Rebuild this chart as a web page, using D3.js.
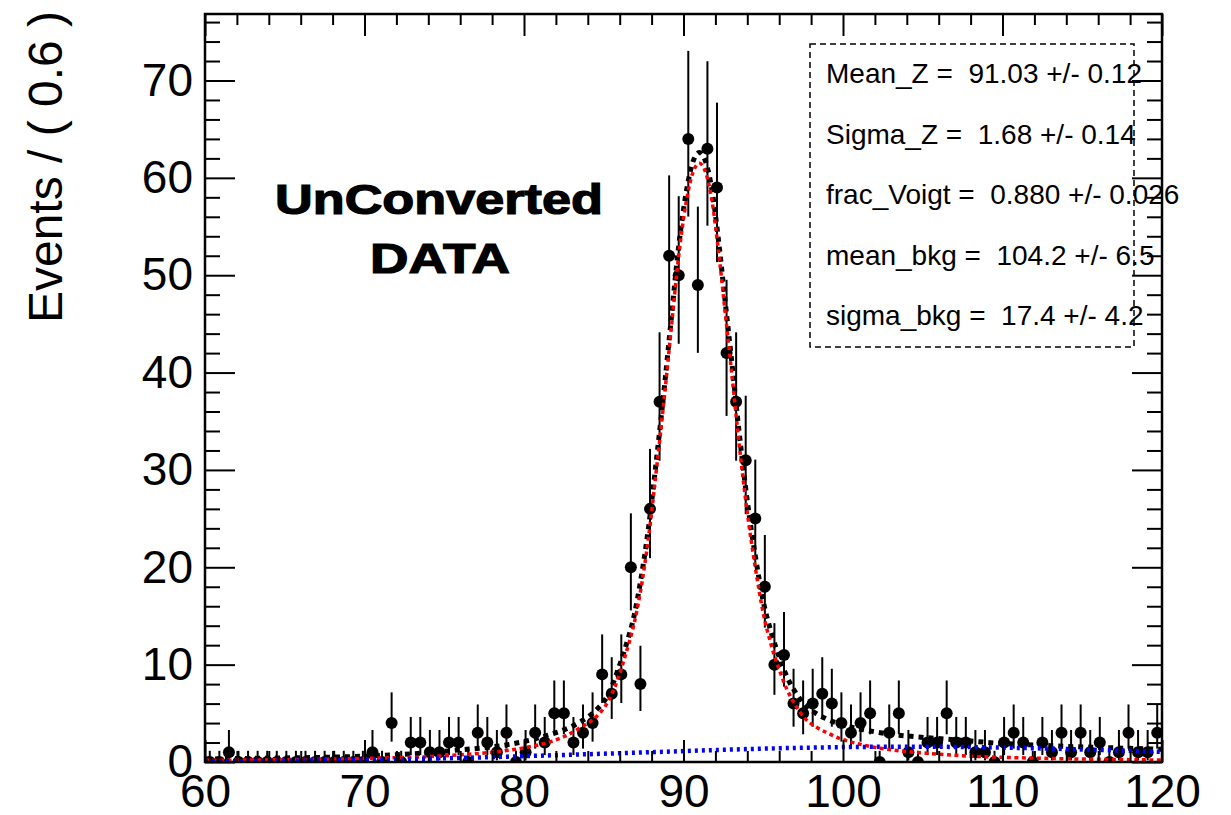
<!DOCTYPE html>
<html><head><meta charset="utf-8">
<script src="https://cdn.jsdelivr.net/npm/d3@7"></script>
<style>
body{margin:0;background:#fff;}
svg text{font-family:"Liberation Sans",Arial,Helvetica,sans-serif;fill:#000;}
</style></head><body>
<svg id="chart" width="1231" height="815"></svg>
<script>
// ---- Histogram binning (60 to 120, 100 bins of 0.6) ----
const binLow = 60, binWidth = 0.6;
const counts = [
  0,0,1,0,0,0,0,0,0,0,
  0,0,0,0,0,0,0,1,0,4,
  0,2,2,1,1,2,2,0,3,2,
  1,3,0,1,3,2,5,5,2,3,
  4,9,7,9,20,8,26,37,52,50,
  64,49,63,59,42,37,31,25,18,10,
  11,6,5,6,7,6,4,3,4,5,
  0,3,5,1,0,2,2,5,2,2,
  1,1,0,2,3,2,0,2,1,3,
  1,3,1,2,0,1,3,1,1,3
];

// ---- Fit curves ----
const curveX = [60,64,68,72,74,76,78,80,81.5,82.5,83.5,84.5,85.3,85.9,86.4,86.9,87.3,87.8,88.3,88.8,
  89.2,89.7,90.2,90.6,91.0,91.4,91.8,92.2,92.6,93.0,93.5,94.0,94.5,95.0,95.5,96.0,96.5,97.0,97.6,98.3,
  99.0,100,101,102,103,104.5,106.5,108,110,112,114,116,118,120];
const totalY = [0.3,0.4,0.5,0.75,0.95,1.25,1.55,2.1,2.75,3.3,4.1,5.3,7.0,9.5,12.0,15.0,18.5,24.0,31.0,38.5,
  45.0,53.0,58.8,61.7,62.6,61.6,58.6,53.5,47.5,41.5,33.7,26.8,21.2,16.5,13.3,10.8,8.7,7.2,5.9,5.0,
  4.4,3.8,3.4,3.1,2.85,2.6,2.35,2.15,1.9,1.75,1.6,1.5,1.4,1.3];
const signalY = [0.17,0.22,0.3,0.45,0.55,0.75,1.0,1.45,2.0,2.6,3.5,4.6,6.3,8.6,11.2,14.2,17.5,23.0,30.0,37.5,
  44.0,52.0,57.8,60.6,61.5,60.5,57.5,52.4,46.4,40.3,32.5,25.6,20.0,15.3,12.0,9.5,7.4,5.9,4.5,3.6,
  3.0,2.3,1.85,1.5,1.25,1.0,0.75,0.6,0.48,0.4,0.33,0.28,0.24,0.2];
const bkgX = [60,64,68,72,76,80,84,88,92,96,100,104,108,112,116,120];
const bkgY = [0.06,0.11,0.18,0.28,0.42,0.60,0.80,1.01,1.23,1.41,1.53,1.57,1.53,1.41,1.24,1.04];

// ---- Text ----
const xTicks = [60,70,80,90,100,110,120];
const yTicks = [0,10,20,30,40,50,60,70];
const yTitle = "Events / ( 0.6 )";
const labelLines = ["UnConverted","DATA"];
const paramLines = [
  "Mean_Z =  91.03 +/- 0.12",
  "Sigma_Z =  1.68 +/- 0.14",
  "frac_Voigt =  0.880 +/- 0.026",
  "mean_bkg =  104.2 +/- 6.5",
  "sigma_bkg =  17.4 +/- 4.2"
];

// ---- Layout ----
const L = 205, R = 1162, T = 14, B = 762;
const svg = d3.select("#chart");
const x = d3.scaleLinear().domain([60,120]).range([L,R]);
const y = d3.scaleLinear().domain([0,76.83]).range([B,T]);

svg.append("defs").append("clipPath").attr("id","clip")
  .append("rect").attr("x",L).attr("y",T).attr("width",R-L).attr("height",B-T);

// Poisson (Garwood) 68% interval for a count
function poisson(n){
  if(n===0) return [0,1.148];
  const lo = n*Math.pow(1-1/(9*n)-1/(3*Math.sqrt(n)),3);
  const m = n+1;
  const hi = m*Math.pow(1-1/(9*m)+1/(3*Math.sqrt(m)),3);
  return [lo,hi];
}
const data = counts.map((c,i)=>({x: binLow + binWidth*(i+0.5), n:c, e:poisson(c)}));

const plot = svg.append("g").attr("clip-path","url(#clip)");
// data error bars
plot.append("g").selectAll("line").data(data).join("line")
  .attr("x1",d=>x(d.x)).attr("x2",d=>x(d.x))
  .attr("y1",d=>y(d.e[0])).attr("y2",d=>y(d.e[1]))
  .attr("stroke","#000").attr("stroke-width",2);
plot.append("g").selectAll("circle").data(data).join("circle")
  .attr("cx",d=>x(d.x)).attr("cy",d=>y(d.n)).attr("r",6).attr("fill","#000");

const line = d3.line().curve(d3.curveMonotoneX);
plot.append("path")
  .attr("d", line(curveX.map((v,i)=>[x(v),y(totalY[i])])))
  .attr("fill","none").attr("stroke","#000").attr("stroke-width",5).attr("stroke-dasharray","5,5");
plot.append("path")
  .attr("d", line(curveX.map((v,i)=>[x(v),y(signalY[i])])))
  .attr("fill","none").attr("stroke","#ff0000").attr("stroke-width",3.5).attr("stroke-dasharray","4,3.5");
plot.append("path")
  .attr("d", line(bkgX.map((v,i)=>[x(v),y(bkgY[i])])))
  .attr("fill","none").attr("stroke","#0000ff").attr("stroke-width",4.5).attr("stroke-dasharray","3,4");

// ---- Axes ----
const xMinor = d3.range(60,121,2).filter(v=>v%10!==0);
const yMinor = d3.range(0,77,2).filter(v=>v%10!==0);
function styleAxis(g){ g.select(".domain").remove(); g.selectAll("line").attr("stroke-width",2); }

svg.append("g").attr("transform",`translate(0,${B})`)
  .call(d3.axisBottom(x).tickValues(xTicks).tickSize(-22).tickPadding(12).tickFormat(d3.format("d")))
  .call(styleAxis)
  .call(g=>g.selectAll("text").attr("font-size",46).attr("font-family","Liberation Sans, Arial, sans-serif"));
svg.append("g").attr("transform",`translate(0,${B})`)
  .call(d3.axisBottom(x).tickValues(xMinor).tickSize(-11).tickFormat(""))
  .call(styleAxis);
svg.append("g").attr("transform",`translate(0,${T})`)
  .call(d3.axisTop(x).tickValues(xTicks).tickSize(-22).tickFormat(""))
  .call(styleAxis);
svg.append("g").attr("transform",`translate(0,${T})`)
  .call(d3.axisTop(x).tickValues(xMinor).tickSize(-11).tickFormat(""))
  .call(styleAxis);

svg.append("g").attr("transform",`translate(${L},0)`)
  .call(d3.axisLeft(y).tickValues(yTicks).tickSize(-30).tickPadding(12).tickFormat(d3.format("d")))
  .call(styleAxis)
  .call(g=>g.selectAll("text").attr("font-size",46).attr("font-family","Liberation Sans, Arial, sans-serif"));
svg.append("g").attr("transform",`translate(${L},0)`)
  .call(d3.axisLeft(y).tickValues(yMinor).tickSize(-15).tickFormat(""))
  .call(styleAxis);
svg.append("g").attr("transform",`translate(${R},0)`)
  .call(d3.axisRight(y).tickValues(yTicks).tickSize(-30).tickFormat(""))
  .call(styleAxis);
svg.append("g").attr("transform",`translate(${R},0)`)
  .call(d3.axisRight(y).tickValues(yMinor).tickSize(-15).tickFormat(""))
  .call(styleAxis);

svg.append("rect").attr("x",L).attr("y",T).attr("width",R-L).attr("height",B-T)
  .attr("fill","none").attr("stroke","#000").attr("stroke-width",2.5);

// y title
svg.append("text").attr("transform","translate(62,167) rotate(-90)")
  .attr("text-anchor","middle").attr("font-size",48).text(yTitle);

// big label
const big = svg.append("g").style("font-family","Lato, 'DejaVu Sans', sans-serif")
  .attr("font-weight",900).attr("stroke","#000").attr("stroke-width",1.2);
big.append("text").attr("x",439).attr("y",214).attr("text-anchor","middle")
  .attr("font-size",42)
  .attr("textLength",328).attr("lengthAdjust","spacingAndGlyphs").text(labelLines[0]);
big.append("text").attr("x",440).attr("y",273).attr("text-anchor","middle")
  .attr("font-size",42)
  .attr("textLength",140).attr("lengthAdjust","spacingAndGlyphs").text(labelLines[1]);

// parameter box
svg.append("rect").attr("x",810).attr("y",44).attr("width",324).attr("height",303)
  .attr("fill","none").attr("stroke","#000").attr("stroke-width",1.5).attr("stroke-dasharray","6,4");
svg.append("g").selectAll("text").data(paramLines).join("text")
  .attr("x",826).attr("y",(d,i)=>83+i*60.5)
  .attr("font-size",28).style("white-space","pre").text(d=>d);
</script>
</body></html>
